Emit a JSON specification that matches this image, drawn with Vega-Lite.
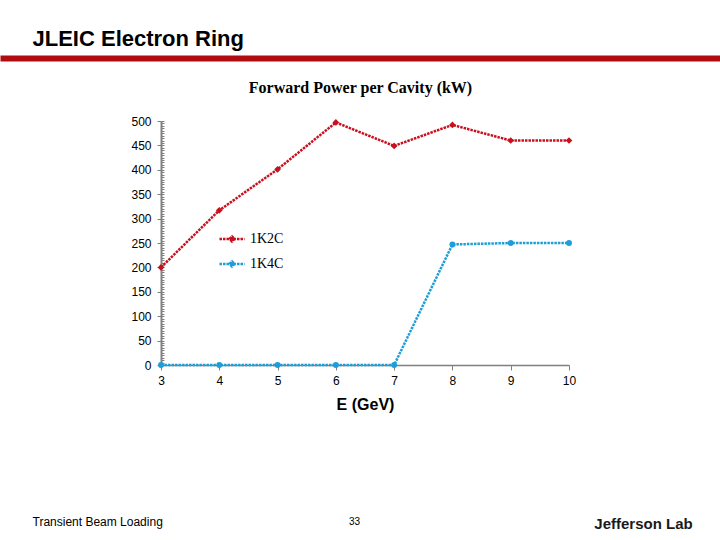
{
  "$schema": "https://vega.github.io/schema/vega-lite/v6.json",
  "width": 720,
  "height": 540,
  "autosize": {"type": "none"},
  "padding": 0,
  "background": "white",
  "config": {
    "view": {"stroke": null},
    "axis": {"grid": false, "labelFlush": false, "labelFont": "Liberation Sans", "titleFont": "Liberation Sans", "labelColor": "black", "titleColor": "black"}
  },
  "layer": [
    {
      "data": {"values": [
        {"E": 3, "P": 200, "series": "1K2C"},
        {"E": 4, "P": 317, "series": "1K2C"},
        {"E": 5, "P": 401, "series": "1K2C"},
        {"E": 6, "P": 497, "series": "1K2C"},
        {"E": 7, "P": 449, "series": "1K2C"},
        {"E": 8, "P": 492, "series": "1K2C"},
        {"E": 9, "P": 460, "series": "1K2C"},
        {"E": 10, "P": 460, "series": "1K2C"},
        {"E": 3, "P": 0, "series": "1K4C"},
        {"E": 4, "P": 0, "series": "1K4C"},
        {"E": 5, "P": 0, "series": "1K4C"},
        {"E": 6, "P": 0, "series": "1K4C"},
        {"E": 7, "P": 0, "series": "1K4C"},
        {"E": 8, "P": 247, "series": "1K4C"},
        {"E": 9, "P": 250, "series": "1K4C"},
        {"E": 10, "P": 250, "series": "1K4C"}
      ]},
      "encoding": {
        "x": {"field": "E", "type": "quantitative",
          "scale": {"domain": [3, 10], "range": [161, 569], "nice": false, "zero": false},
          "axis": {"orient": "bottom", "offset": -175, "values": [3, 4, 5, 6, 7, 8, 9, 10],
            "tickSize": 5, "tickColor": "#808080", "domainColor": "#808080", "domainWidth": 1.5,
            "labelFontSize": 12, "labelPadding": 5,
            "title": "E (GeV)", "titleFontSize": 16, "titleFontWeight": "bold",
            "titleY": 39, "titleBaseline": "middle"}},
        "y": {"field": "P", "type": "quantitative",
          "scale": {"domain": [0, 500], "range": [365, 121], "nice": false},
          "axis": {"orient": "left", "offset": -161, "values": [0, 50, 100, 150, 200, 250, 300, 350, 400, 450, 500],
            "tickSize": 4, "tickColor": "#808080", "domainColor": "#808080", "domainWidth": 2,
            "labelFontSize": 12, "labelPadding": 6, "title": null}},
        "color": {"field": "series", "type": "nominal",
          "scale": {"domain": ["1K2C", "1K4C"], "range": ["#C8101E", "#1E9ED8"]},
          "legend": {"orient": "none", "legendX": 218, "legendY": 225, "title": null, "padding": 0,
            "symbolType": "M-1,0H1M-0.2,0L0,-0.2L0.2,0L0,0.2Z", "symbolSize": 625,
            "symbolStrokeWidth": 2.5, "symbolDash": [2.5, 1],
            "labelFont": "Liberation Serif", "labelFontSize": 14, "labelColor": "black", "labelOffset": 4,
            "rowPadding": 3,
            "encode": {"symbols": {"update": {
              "fill": {"scale": "color", "field": "value"},
              "stroke": {"scale": "color", "field": "value"}}}}}}
      },
      "layer": [
        {"mark": {"type": "line", "strokeDash": [2.5, 1], "strokeWidth": 2.5}},
        {"transform": [{"filter": "datum.series === '1K2C'"}],
          "mark": {"type": "point", "shape": "diamond", "filled": true, "size": 45, "opacity": 1}},
        {"transform": [{"filter": "datum.series === '1K4C'"}],
          "mark": {"type": "point", "shape": "circle", "filled": true, "size": 35, "opacity": 1}}
      ]
    },
    {
      "data": {"values": [{"E": 3, "P": 0}]},
      "mark": {"type": "point", "opacity": 0},
      "encoding": {
        "x": {"field": "E", "type": "quantitative",
          "scale": {"domain": [3, 10], "range": [161, 569], "nice": false, "zero": false},
          "axis": {"orient": "top", "offset": -121, "domain": false, "ticks": false, "labels": false,
            "title": "Forward Power per Cavity (kW)", "titleFont": "Liberation Serif", "titleFontSize": 16,
            "titleFontWeight": "bold", "titleX": 360, "titleY": -34, "titleAlign": "center", "titleBaseline": "middle"}},
        "y": {"field": "P", "type": "quantitative",
          "scale": {"domain": [0, 500], "range": [365, 121], "nice": false},
          "axis": {"orient": "right", "offset": -559, "domain": false, "labels": false, "title": null,
            "tickSize": 3, "tickColor": "#808080", "tickWidth": 1,
            "values": [0,5,10,15,20,25,30,35,40,45,50,55,60,65,70,75,80,85,90,95,100,105,110,115,120,125,130,135,140,145,150,155,160,165,170,175,180,185,190,195,200,205,210,215,220,225,230,235,240,245,250,255,260,265,270,275,280,285,290,295,300,305,310,315,320,325,330,335,340,345,350,355,360,365,370,375,380,385,390,395,400,405,410,415,420,425,430,435,440,445,450,455,460,465,470,475,480,485,490,495,500]}}
      }
    },
    {
      "data": {"values": [{"E": 0, "P": 0}]},
      "mark": {"type": "point", "opacity": 0},
      "encoding": {
        "x": {"field": "E", "type": "quantitative",
          "scale": {"domain": [0, 1], "range": [0, 720], "nice": false},
          "axis": {"orient": "top", "offset": -58, "domain": true, "domainColor": "#B00C10", "domainWidth": 6,
            "ticks": false, "labels": false,
            "title": "JLEIC Electron Ring", "titleX": 32, "titleY": -20, "titleAlign": "left", "titleBaseline": "middle",
            "titleFontSize": 22, "titleFontWeight": "bold"}},
        "y": {"field": "P", "type": "quantitative",
          "scale": {"domain": [0, 1], "range": [540, 0], "nice": false},
          "axis": {"orient": "left", "offset": 0, "domain": false, "ticks": false, "labels": false,
            "title": "Transient Beam Loading", "titleAngle": 0, "titleX": 32, "titleY": 521,
            "titleAlign": "left", "titleBaseline": "middle", "titleFontSize": 12, "titleFontWeight": "normal"}}
      }
    },
    {
      "data": {"values": [{"E": 0, "P": 0}]},
      "mark": {"type": "point", "opacity": 0},
      "encoding": {
        "x": {"field": "E", "type": "quantitative",
          "scale": {"domain": [0, 1], "range": [0, 720], "nice": false},
          "axis": {"orient": "bottom", "offset": 0, "domain": false, "ticks": false, "labels": false,
            "title": "33", "titleX": 354, "titleY": -19, "titleAlign": "center", "titleBaseline": "middle",
            "titleFontSize": 10, "titleFontWeight": "normal"}},
        "y": {"field": "P", "type": "quantitative",
          "scale": {"domain": [0, 1], "range": [540, 0], "nice": false},
          "axis": {"orient": "right", "offset": 0, "domain": false, "ticks": false, "labels": false,
            "title": "Jefferson Lab", "titleAngle": 0, "titleX": -77, "titleY": 523,
            "titleAlign": "center", "titleBaseline": "middle", "titleFontSize": 15, "titleFontWeight": "bold", "titleColor": "#1a1a1a"}}
      }
    }
  ],
  "resolve": {
    "scale": {"x": "independent", "y": "independent"},
    "axis": {"x": "independent", "y": "independent"}
  }
}
